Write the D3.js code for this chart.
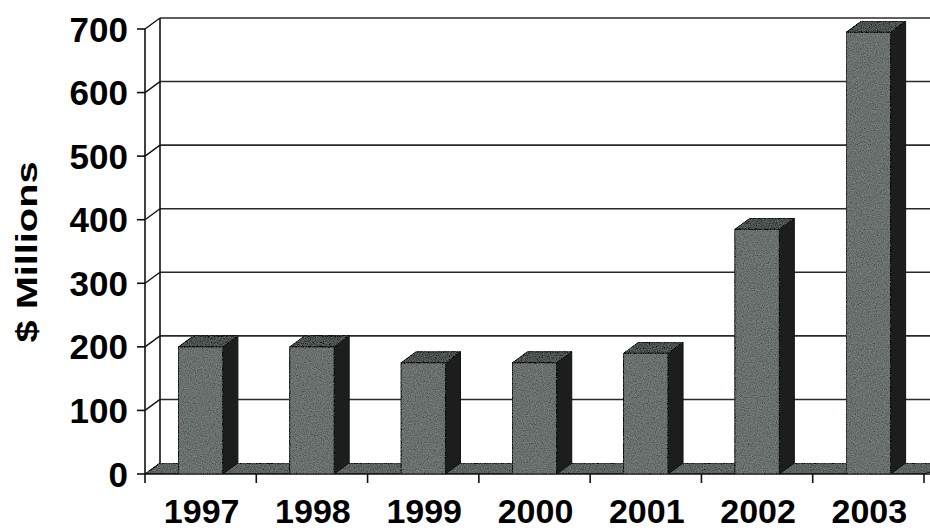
<!DOCTYPE html>
<html>
<head>
<meta charset="utf-8">
<script src="https://cdn.jsdelivr.net/npm/d3@7"></script>
<style>
  html, body { margin: 0; padding: 0; background: #fff; }
  svg { display: block; font-family: "Liberation Sans", Arial, Helvetica, sans-serif; }
</style>
</head>
<body>
<svg id="chart" width="930" height="531"></svg>
<script>
// Annual amounts, $ millions
const years = ["1997", "1998", "1999", "2000", "2001", "2002", "2003"];
const amounts = [200, 200, 175, 175, 190, 385, 695];
const yTicks = [0, 100, 200, 300, 400, 500, 600, 700];
const yTitle = "$ Millions";

const W = 930, H = 531;
const depth = { dx: 15, dy: -11 };   // 3‑D depth offset of the back wall
const svg = d3.select("#chart");

const y = d3.scaleLinear().domain([0, 700]).range([474, 29]);
const x = d3.scaleBand().domain(years).range([145, 924]).paddingInner(0.6).paddingOuter(0.3);
const step = x.step();
const gapHalf = (step - x.bandwidth()) / 2;
const x0 = x.range()[0], x1 = x.range()[1];

// Grain for the shaded surfaces
const defs = svg.append("defs");
const f = defs.append("filter").attr("id", "grain").attr("x", 0).attr("y", 0).attr("width", 1).attr("height", 1);
f.append("feTurbulence").attr("type", "fractalNoise").attr("baseFrequency", 0.85).attr("numOctaves", 2).attr("seed", 4).attr("result", "noise");
f.append("feColorMatrix").attr("in", "noise").attr("type", "matrix")
  .attr("values", "0.33 0.33 0.33 0 0  0.33 0.33 0.33 0 0  0.33 0.33 0.33 0 0  0 0 0 0 1").attr("result", "gray");
f.append("feComposite").attr("in", "gray").attr("in2", "SourceGraphic").attr("operator", "arithmetic")
  .attr("k1", 0).attr("k2", 0.4).attr("k3", 1).attr("k4", -0.2).attr("result", "mix");
f.append("feComposite").attr("in", "mix").attr("in2", "SourceGraphic").attr("operator", "in");

const ink = "#111";

// Back wall gridlines
const g = svg.append("g");
g.selectAll("line.grid").data(yTicks.filter(d => d > 0)).join("line")
  .attr("x1", x0 + depth.dx).attr("x2", x1 + depth.dx)
  .attr("y1", d => y(d) + depth.dy).attr("y2", d => y(d) + depth.dy)
  .attr("stroke", "#2a2a2a").attr("stroke-width", 1.6);

// Side wall: back edge and slanted connectors at each tick
g.append("line").attr("x1", x0 + depth.dx).attr("x2", x0 + depth.dx)
  .attr("y1", y(700) + depth.dy).attr("y2", y(0) + depth.dy)
  .attr("stroke", ink).attr("stroke-width", 1.6);
g.selectAll("line.conn").data(yTicks.filter(d => d > 0)).join("line")
  .attr("x1", x0).attr("x2", x0 + depth.dx)
  .attr("y1", d => y(d)).attr("y2", d => y(d) + depth.dy)
  .attr("stroke", ink).attr("stroke-width", 1.4);

// Floor
const floorPts = [[x0, y(0)], [x0 + depth.dx, y(0) + depth.dy], [x1 + depth.dx + 20, y(0) + depth.dy], [x1, y(0)]];
g.append("path").attr("d", d3.line()(floorPts) + "Z")
  .attr("fill", "#5e6462").attr("stroke", ink).attr("stroke-width", 1.2).attr("filter", "url(#grain)");
g.append("line").attr("x1", x0).attr("x2", x1 + 10).attr("y1", y(0)).attr("y2", y(0))
  .attr("stroke", ink).attr("stroke-width", 1.6);

// Bars as 3-D columns
const bars = svg.append("g").selectAll("g").data(years.map((yr, i) => ({ yr, v: amounts[i] }))).join("g");
bars.append("path") // side face
  .attr("d", d => {
    const xr = x(d.yr) + x.bandwidth(), yt = y(d.v), yb = y(0);
    return d3.line()([[xr, yb], [xr, yt], [xr + depth.dx, yt + depth.dy], [xr + depth.dx, yb + depth.dy]]) + "Z";
  })
  .attr("fill", "#1c1e1e").attr("stroke", ink).attr("stroke-width", 1);
bars.append("path") // top face
  .attr("d", d => {
    const xl = x(d.yr), xr = xl + x.bandwidth(), yt = y(d.v);
    return d3.line()([[xl, yt], [xl + depth.dx, yt + depth.dy], [xr + depth.dx, yt + depth.dy], [xr, yt]]) + "Z";
  })
  .attr("fill", "#4c5250").attr("stroke", ink).attr("stroke-width", 1).attr("filter", "url(#grain)");
bars.append("rect") // front face
  .attr("x", d => x(d.yr)).attr("y", d => y(d.v))
  .attr("width", x.bandwidth()).attr("height", d => y(0) - y(d.v))
  .attr("fill", "#6a706e").attr("stroke", ink).attr("stroke-width", 1).attr("filter", "url(#grain)");

// Value axis (front edge)
const ax = svg.append("g");
ax.append("line").attr("x1", x0).attr("x2", x0).attr("y1", y(700)).attr("y2", y(0) + 9)
  .attr("stroke", ink).attr("stroke-width", 1.6);
ax.selectAll("line.tick").data(yTicks).join("line")
  .attr("x1", x0 - 8).attr("x2", x0).attr("y1", d => y(d)).attr("y2", d => y(d))
  .attr("stroke", ink).attr("stroke-width", 1.6);
ax.selectAll("text").data(yTicks).join("text")
  .attr("x", x0 - 17).attr("y", d => y(d)).attr("dy", "0.36em")
  .attr("text-anchor", "end").attr("font-size", 35).attr("font-weight", "bold").attr("fill", "#000")
  .text(d => d);

// Category axis ticks and labels
const bounds = years.map(yr => x(yr) - gapHalf).concat([x(years[years.length - 1]) + x.bandwidth() + gapHalf]);
ax.selectAll("line.xt").data(bounds.slice(1)).join("line")
  .attr("x1", d => d).attr("x2", d => d).attr("y1", y(0)).attr("y2", y(0) + 9)
  .attr("stroke", ink).attr("stroke-width", 1.6);
ax.selectAll("text.xl").data(years).join("text")
  .attr("x", d => x(d) + x.bandwidth() / 2 + 1).attr("y", 523)
  .attr("text-anchor", "middle").attr("font-size", 34).attr("font-weight", "bold").attr("fill", "#000")
  .text(d => d);

// Axis title
svg.append("text")
  .attr("transform", "translate(37,252) rotate(-90)")
  .attr("text-anchor", "middle").attr("font-size", 30).attr("font-weight", "bold").attr("fill", "#000")
  .attr("textLength", 181).attr("lengthAdjust", "spacingAndGlyphs")
  .text(yTitle);
</script>
</body>
</html>
